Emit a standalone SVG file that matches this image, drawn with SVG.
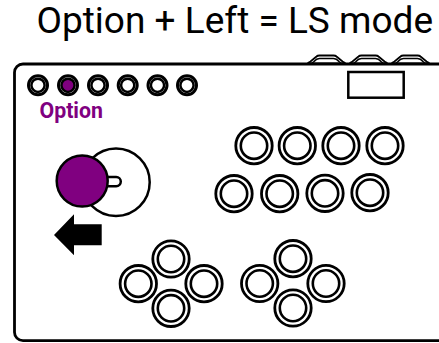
<svg xmlns="http://www.w3.org/2000/svg" width="439" height="343" viewBox="0 0 439 343">
<style>
text{font-family:Roboto,"Liberation Sans",sans-serif}
.o{fill:#fff;stroke:#000;stroke-width:2.8}
.i{fill:#fff;stroke:#000;stroke-width:2.6}
.t{fill:#fff;stroke:#000;stroke-width:1.8}
.s{fill:none;stroke:#000;stroke-width:1.6}
</style>
<defs>
<g id="btn"><circle class="o" r="18.200"/><circle class="i" r="13.200"/></g>
<g id="sm"><circle r="9.500" fill="#fff" stroke="#000" stroke-width="3"/><circle r="6.600" fill="#fff" stroke="#000" stroke-width="2.500"/></g>
<g id="trig"><path class="t" d="M0 8.500Q1 7 3 6.500L9 1.500Q10 .5 12 .5H26Q28 .5 29 1.500L35 6.500Q37 7 38 8.500Z"/><path class="s" d="M4 8.500L6.500 6.500Q9 3.500 12 3.500H26Q29 3.500 31.500 6.500L34 8.500"/></g>
</defs>
<rect width="439" height="343" fill="#fff"/>
<text id="title" x="36.500" y="33" font-size="37" fill="#000">Option + Left = LS mode</text>
<g id="triggers">
<use href="#trig" x="307.500" y="55"/><use href="#trig" x="349.500" y="55"/><use href="#trig" x="391.500" y="55"/>
</g>
<path id="board" d="M445 64H23a8.500 8.500 0 0 0-8.500 8.500V332a8.500 8.500 0 0 0 8.500 8.700H445" fill="#fff" stroke="#000" stroke-width="2.800"/>
<g id="touchpad"><rect x="348.300" y="72" width="55.400" height="25.700" fill="#fff" stroke="#000" stroke-width="2.500"/></g>
<g id="small-buttons">
<use href="#sm" x="38" y="85.300"/>
<g id="opt"><circle cx="68" cy="85.300" r="9.500" fill="#fff" stroke="#000" stroke-width="3"/><circle cx="68" cy="85.300" r="6.600" fill="#800080" stroke="#000" stroke-width="2.500"/></g>
<use href="#sm" x="98" y="85.300"/>
<use href="#sm" x="127.700" y="85.300"/>
<use href="#sm" x="157.500" y="85.300"/>
<use href="#sm" x="187" y="85.300"/>
</g>
<text id="option-label" x="39.500" y="118" font-size="21.300" font-weight="700" fill="#800080">Option</text>
<g id="stick">
<circle cx="116" cy="182.300" r="33.700" fill="#fff" stroke="#000" stroke-width="2.500"/>
<rect x="100" y="177" width="20.800" height="9.200" rx="4.600" fill="#fff" stroke="#000" stroke-width="2.500"/>
<circle cx="82.200" cy="181" r="25.500" fill="#800080" stroke="#000" stroke-width="2.500"/>
</g>
<path id="arrow" d="M54 235L74 214.300V224.300H101.700V245.300H74V255.300Z" fill="#000"/>
<g id="top-row">
<use href="#btn" x="254" y="145.700"/><use href="#btn" x="297.300" y="145.700"/><use href="#btn" x="341" y="145.700"/><use href="#btn" x="385" y="145.700"/>
</g>
<g id="second-row">
<use href="#btn" x="234" y="193.700"/><use href="#btn" x="279.700" y="193.700"/><use href="#btn" x="325" y="193.300"/><use href="#btn" x="370" y="192.700"/>
</g>
<g id="left-cluster">
<use href="#btn" x="171" y="259"/><use href="#btn" x="138.300" y="283.700"/><use href="#btn" x="204" y="283.700"/><use href="#btn" x="171" y="308.300"/>
</g>
<g id="right-cluster">
<use href="#btn" x="293" y="258.700"/><use href="#btn" x="259.700" y="283.500"/><use href="#btn" x="326" y="283.500"/><use href="#btn" x="293" y="308"/>
</g>
</svg>
